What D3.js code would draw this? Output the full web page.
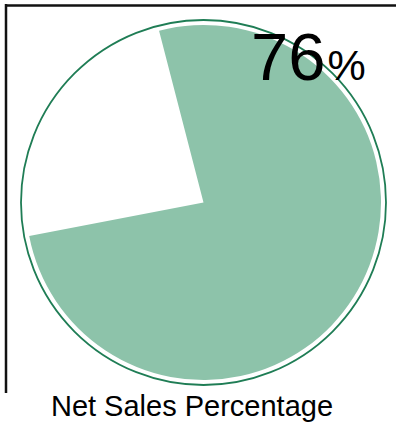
<!DOCTYPE html>
<html>
<head>
<meta charset="utf-8">
<script src="https://cdn.jsdelivr.net/npm/d3@7"></script>
<style>
  html, body { margin: 0; padding: 0; background: #fff; }
  svg { display: block; }
</style>
</head>
<body>
<svg id="chart" width="396" height="425"></svg>
<script>
// Share of net sales vs. the remainder
const categories = ["Net Sales", "Other"];
const values = [76, 24];
const percentLabel = "76";
const titleText = "Net Sales Percentage";

const W = 396, H = 425;
const cx = 203.5, cy = 202.5;
const outlineR = 182.5;
const fillR = 177.5;
const startDeg = -14.5;

const svg = d3.select("#chart");

// dithered green fill
const defs = svg.append("defs");
const pat = defs.append("pattern")
  .attr("id", "dither")
  .attr("patternUnits", "userSpaceOnUse")
  .attr("width", 2).attr("height", 2);
pat.append("rect").attr("width", 2).attr("height", 2).attr("fill", "#97c9b2");
pat.append("rect").attr("x", 0).attr("y", 0).attr("width", 1).attr("height", 1).attr("fill", "#82bca2");
pat.append("rect").attr("x", 1).attr("y", 1).attr("width", 1).attr("height", 1).attr("fill", "#82bca2");

// frame lines (top and left)
svg.append("line")
  .attr("x1", 5).attr("x2", W).attr("y1", 5.5).attr("y2", 5.5)
  .attr("stroke", "#111").attr("stroke-width", 2.5);
svg.append("line")
  .attr("x1", 6).attr("x2", 6).attr("y1", 4).attr("y2", 393)
  .attr("stroke", "#111").attr("stroke-width", 2.5);

const pie = d3.pie()
  .sort(null)
  .value(d => d)
  .startAngle(startDeg * Math.PI / 180)
  .endAngle(startDeg * Math.PI / 180 + 2 * Math.PI);

const arcs = pie(values);
const arc = d3.arc().innerRadius(0).outerRadius(fillR);

const g = svg.append("g").attr("transform", `translate(${cx},${cy})`);

g.selectAll("path.slice")
  .data(arcs)
  .join("path")
  .attr("class", "slice")
  .attr("d", arc)
  .attr("fill", (d, i) => i === 0 ? "url(#dither)" : "none");

// outer ring
g.append("circle")
  .attr("r", outlineR)
  .attr("fill", "none")
  .attr("stroke", "#1f7d55")
  .attr("stroke-width", 1.8);

// value label
const label = svg.append("text")
  .attr("x", 251).attr("y", 80)
  .attr("font-family", "Liberation Sans, Arial, sans-serif")
  .attr("fill", "#000");
label.append("tspan").attr("font-size", 67).text(percentLabel);
label.append("tspan").attr("font-size", 43).attr("dx", 2).text("%");

// title
svg.append("text")
  .attr("x", 192).attr("y", 416)
  .attr("text-anchor", "middle")
  .attr("font-family", "Liberation Sans, Arial, sans-serif")
  .attr("font-size", 29)
  .attr("fill", "#000")
  .text(titleText);
</script>
</body>
</html>
